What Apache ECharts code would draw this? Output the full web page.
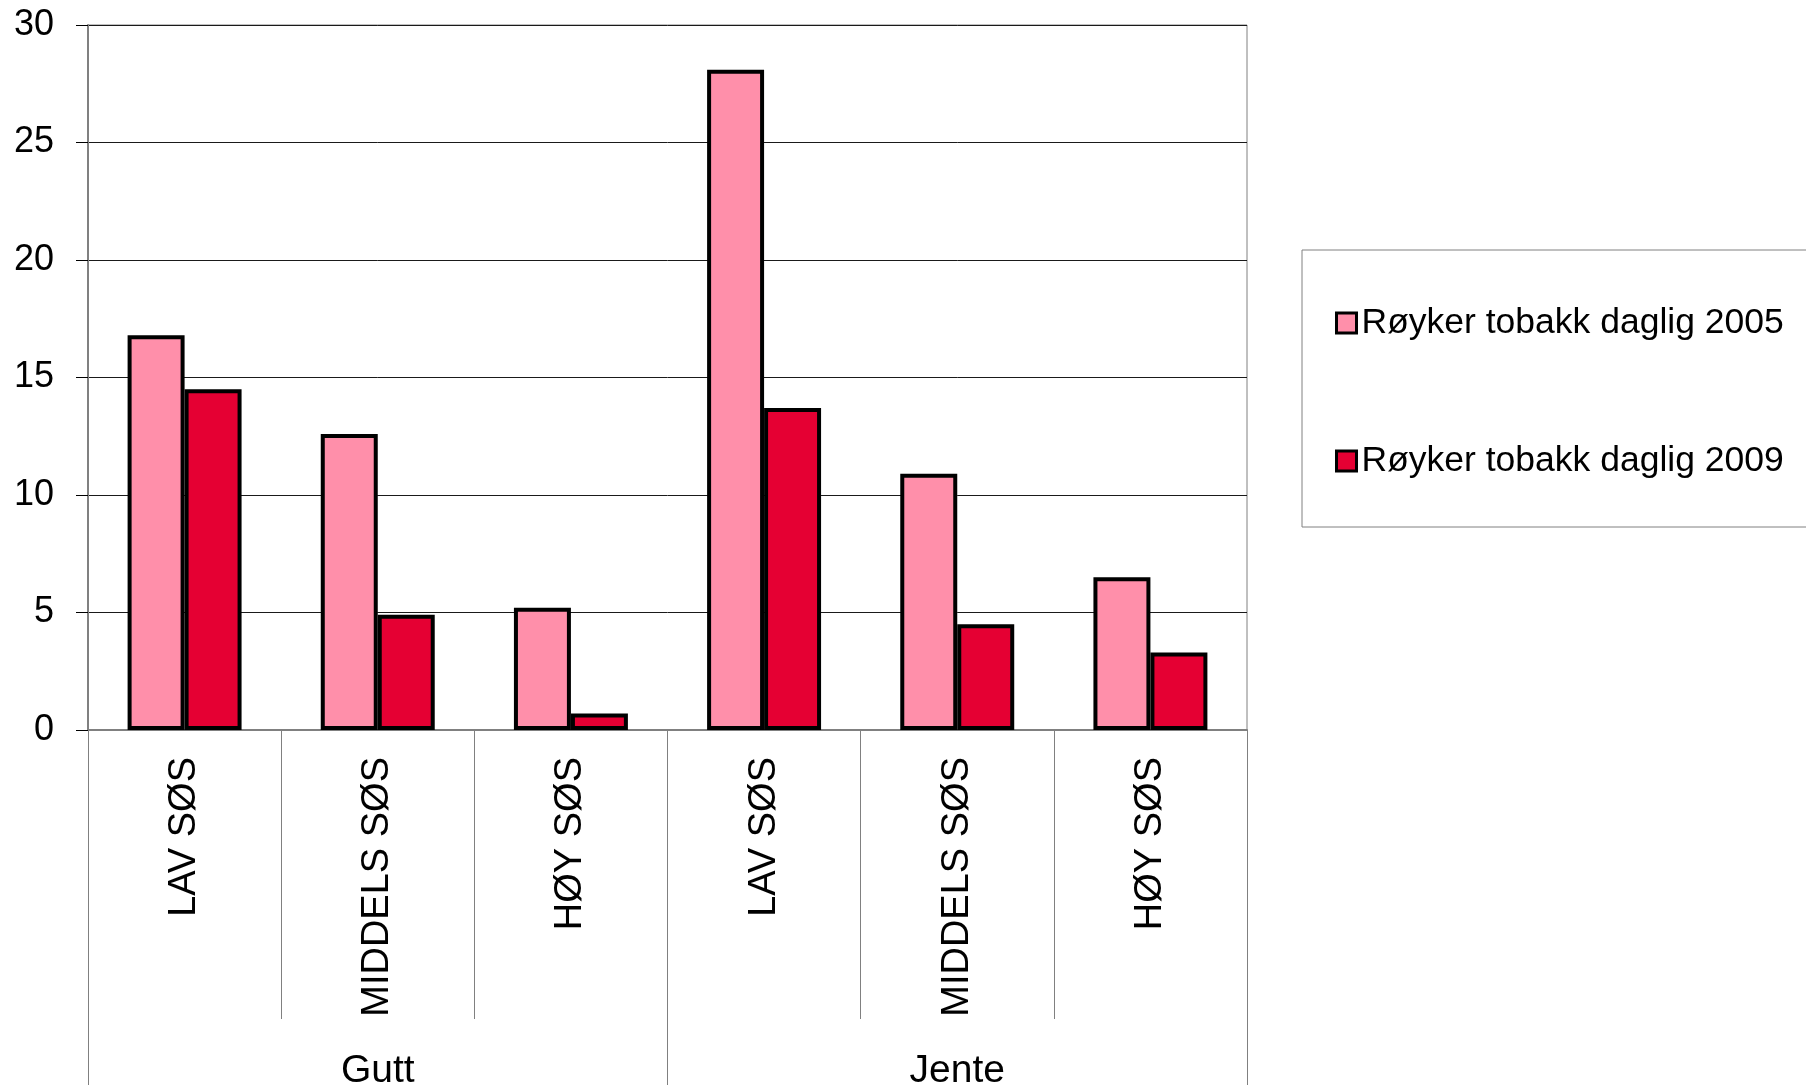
<!DOCTYPE html>
<html>
<head>
<meta charset="utf-8">
<script src="https://cdn.jsdelivr.net/npm/echarts@6/dist/echarts.min.js"></script>
<style>
html,body{margin:0;padding:0;background:#fff;}
#chart{width:1806px;height:1085px;}
</style>
</head>
<body>
<div id="chart"></div>
<script>
const categories = ['LAV SØS', 'MIDDELS SØS', 'HØY SØS', 'LAV SØS', 'MIDDELS SØS', 'HØY SØS'];
const groups = ['Gutt', 'Jente'];
const seriesNames = ['Røyker tobakk daglig 2005', 'Røyker tobakk daglig 2009'];
const values2005 = [16.8, 12.6, 5.2, 28.1, 10.9, 6.5];
const values2009 = [14.5, 4.9, 0.7, 13.7, 4.5, 3.3];
const yTicks = { min: 0, max: 30, interval: 5 };

const font = 'Liberation Sans, Arial, sans-serif';
const chart = echarts.init(document.getElementById('chart'), null, { renderer: 'canvas' });
chart.setOption({
  animation: false,
  backgroundColor: '#ffffff',
  textStyle: { fontFamily: font, color: '#000' },
  grid: {
    left: 88, top: 25, width: 1159, height: 705,
    show: true, borderColor: '#808080', borderWidth: 1,
    containLabel: false, outerBoundsMode: 'none'
  },
  legend: {
    orient: 'vertical',
    left: 1302, top: 250,
    padding: [55, 300, 48, 33],
    borderColor: '#808080', borderWidth: 1,
    itemWidth: 20, itemHeight: 20, itemGap: 102,
    icon: 'rect',
    itemStyle: { borderColor: '#000', borderWidth: 3 },
    textStyle: { fontSize: 35.5, fontFamily: font, color: '#000' },
    data: seriesNames
  },
  xAxis: [
    {
      type: 'category',
      data: categories,
      position: 'bottom',
      axisLine: { show: true, lineStyle: { color: '#808080', width: 2 } },
      axisTick: { show: true, interval: 0, length: 289, lineStyle: { color: '#808080', width: 1 } },
      axisLabel: { interval: 0, rotate: 90, margin: 27, fontSize: 38, fontFamily: font, color: '#000' },
      splitLine: { show: false }
    },
    {
      type: 'category',
      data: groups,
      position: 'bottom',
      axisLine: { show: false },
      axisTick: { show: true, interval: 0, length: 355, lineStyle: { color: '#808080', width: 1 } },
      axisLabel: { interval: 0, margin: 322, fontSize: 39, fontFamily: font, color: '#000' },
      splitLine: { show: false }
    }
  ],
  yAxis: {
    type: 'value',
    min: yTicks.min, max: yTicks.max, interval: yTicks.interval,
    axisLine: { show: true, lineStyle: { color: '#808080', width: 2 } },
    axisTick: { show: true, length: 12, lineStyle: { color: '#000', width: 1 } },
    axisLabel: { margin: 34, fontSize: 36, fontFamily: font, color: '#000' },
    splitLine: { show: true, lineStyle: { color: '#1a1a1a', width: 1 } }
  },
  series: [
    {
      name: seriesNames[0], type: 'bar', xAxisIndex: 0,
      data: values2005,
      barGap: '0%', barCategoryGap: '41%',
      itemStyle: { color: '#FF8FAA', borderColor: '#000', borderWidth: 4 }
    },
    {
      name: seriesNames[1], type: 'bar', xAxisIndex: 0,
      data: values2009,
      barGap: '0%', barCategoryGap: '41%',
      itemStyle: { color: '#E50033', borderColor: '#000', borderWidth: 4 }
    }
  ]
});
</script>
</body>
</html>
